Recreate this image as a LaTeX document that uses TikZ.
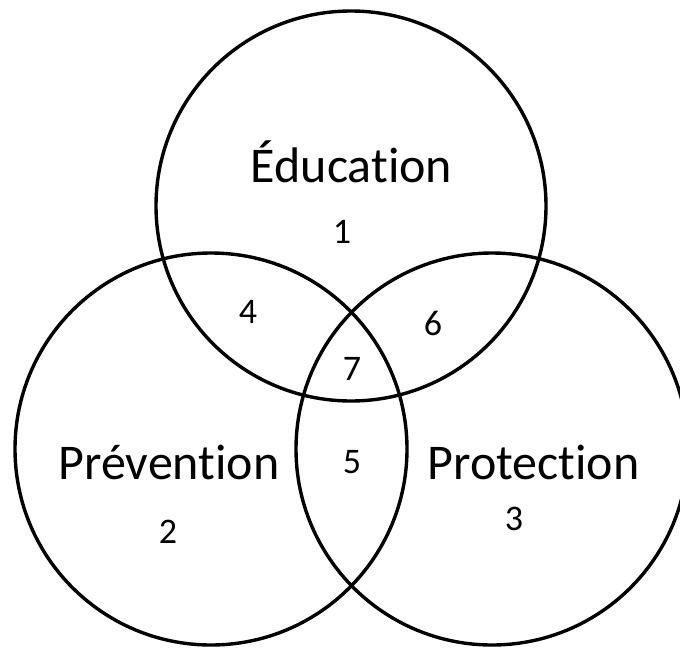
\documentclass[tikz,border=0pt]{standalone}
\usepackage{fontspec}
\setmainfont{Carlito}[Ligatures={NoCommon}]
\begin{document}
\begin{tikzpicture}[x=1pt,y=-1pt,
  ring/.style={draw=black,line width=3.4pt},
  biglabel/.style={anchor=base,inner sep=0pt,font=\fontsize{50}{56}\selectfont},
  numlabel/.style={anchor=base,inner sep=0pt,font=\fontsize{36}{42}\selectfont}]
\useasboundingbox (0,0) rectangle (680,648);
\fill[white] (0,0) rectangle (680,648);
\draw[ring] (351,206) circle[radius=195];
\draw[ring] (211,449) circle[radius=196];
\draw[ring] (492,449) circle[radius=196];
\node[biglabel] (edu) at (351.5,182) {Éducation};
\node[biglabel] (prev) at (169,479) {Prévention};
\node[biglabel] (prot) at (533.5,479) {Protection};
\node[numlabel] (n1) at (342,243) {1};
\node[numlabel] (n2) at (168,543) {2};
\node[numlabel] (n3) at (514,530) {3};
\node[numlabel] (n4) at (248,323.5) {4};
\node[numlabel] (n5) at (352,473) {5};
\node[numlabel] (n6) at (433,335) {6};
\node[numlabel] (n7) at (352,380) {7};
\end{tikzpicture}
\end{document}
